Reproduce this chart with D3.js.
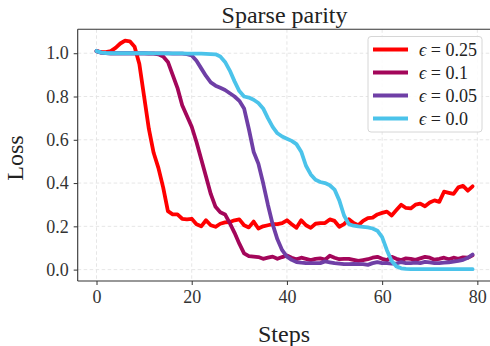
<!DOCTYPE html>
<html>
<head>
<meta charset="utf-8">
<script src="https://cdn.jsdelivr.net/npm/d3@7"></script>
<style>
  html, body { margin: 0; padding: 0; background: #fff; }
  svg { display: block; font-family: "Liberation Serif", "DejaVu Serif", serif; }
  svg text { font-family: "Liberation Serif", "DejaVu Serif", serif; }
</style>
</head>
<body>
<svg id="chart" width="490" height="346"></svg>
<script>
// Loss per training step for four noise levels
const seriesLabels = ["ϵ = 0.25", "ϵ = 0.1", "ϵ = 0.05", "ϵ = 0.0"];
const seriesColors = ["#ff0000", "#a3065a", "#6f3fa6", "#4bc3ea"];

const lossEps025 = [
  1.010, 1.005, 1.005, 1.010, 1.025, 1.045, 1.058, 1.055, 1.030, 0.950,
  0.800, 0.650, 0.540, 0.470, 0.380, 0.270, 0.255, 0.255, 0.235, 0.232,
  0.235, 0.210, 0.200, 0.228, 0.205, 0.198, 0.212, 0.218, 0.220, 0.228,
  0.232, 0.205, 0.195, 0.222, 0.190, 0.200, 0.205, 0.210, 0.210, 0.215,
  0.228, 0.210, 0.193, 0.228, 0.205, 0.193, 0.212, 0.215, 0.215, 0.232,
  0.225, 0.198, 0.210, 0.233, 0.215, 0.205, 0.225, 0.238, 0.240, 0.255,
  0.262, 0.268, 0.250, 0.275, 0.300, 0.285, 0.283, 0.300, 0.305, 0.293,
  0.310, 0.320, 0.313, 0.360, 0.355, 0.350, 0.380, 0.387, 0.365, 0.385
];
const lossEps010 = [
  1.010, 1.003, 1.001, 1.000, 1.000, 1.000, 1.000, 1.000, 0.999, 0.999,
  0.999, 0.998, 0.998, 0.995, 0.985, 0.960, 0.900, 0.840, 0.760, 0.710,
  0.660, 0.590, 0.510, 0.430, 0.350, 0.290, 0.265, 0.255, 0.215, 0.170,
  0.120, 0.075, 0.062, 0.060, 0.058, 0.050, 0.055, 0.060, 0.050, 0.058,
  0.065, 0.055, 0.048, 0.055, 0.050, 0.044, 0.050, 0.052, 0.046, 0.064,
  0.055, 0.048, 0.050, 0.050, 0.045, 0.040, 0.044, 0.048, 0.055, 0.059,
  0.050, 0.044, 0.059, 0.050, 0.044, 0.052, 0.050, 0.045, 0.052, 0.059,
  0.055, 0.046, 0.050, 0.055, 0.048, 0.055, 0.050, 0.057, 0.055, 0.066
];
const lossEps005 = [
  1.010, 1.003, 1.001, 1.000, 1.000, 1.000, 1.000, 1.000, 1.000, 1.000,
  1.000, 0.999, 0.999, 0.999, 0.999, 0.999, 0.998, 0.998, 0.998, 0.996,
  0.990, 0.965, 0.930, 0.895, 0.865, 0.850, 0.840, 0.830, 0.815, 0.800,
  0.780, 0.745, 0.650, 0.545, 0.490, 0.400, 0.300, 0.210, 0.140, 0.090,
  0.060, 0.045, 0.035, 0.032, 0.030, 0.030, 0.030, 0.030, 0.038, 0.034,
  0.030, 0.028, 0.025, 0.025, 0.026, 0.025, 0.025, 0.022, 0.030, 0.035,
  0.030, 0.030, 0.028, 0.028, 0.035, 0.030, 0.030, 0.032, 0.030, 0.036,
  0.033, 0.030, 0.030, 0.032, 0.034, 0.037, 0.040, 0.045, 0.055, 0.070
];
const lossEps000 = [
  1.010, 1.003, 1.001, 1.000, 1.000, 1.000, 1.000, 1.000, 1.000, 1.000,
  1.000, 1.000, 0.999, 0.999, 0.999, 0.999, 0.999, 0.999, 0.999, 0.998,
  0.998, 0.998, 0.998, 0.997, 0.996, 0.995, 0.985, 0.960, 0.920, 0.870,
  0.825, 0.800, 0.795, 0.785, 0.770, 0.745, 0.700, 0.660, 0.630, 0.615,
  0.605, 0.595, 0.580, 0.545, 0.480, 0.440, 0.415, 0.405, 0.400, 0.390,
  0.370, 0.320, 0.250, 0.210, 0.203, 0.200, 0.198, 0.195, 0.190, 0.180,
  0.150, 0.090, 0.040, 0.015, 0.006, 0.003, 0.002, 0.002, 0.002, 0.002,
  0.002, 0.002, 0.002, 0.002, 0.002, 0.002, 0.002, 0.002, 0.002, 0.002
];
const seriesValues = [lossEps025, lossEps010, lossEps005, lossEps000];

const xTicks = [0, 20, 40, 60, 80];
const yTicks = [0.0, 0.2, 0.4, 0.6, 0.8, 1.0];

const svg = d3.select("#chart");
const plot = { left: 77.7, right: 491.4, top: 29.3, bottom: 281 };

const x = d3.scaleLinear().domain([-3.95, 82.95]).range([plot.left, plot.right]);
const y = d3.scaleLinear().domain([-0.0526, 1.1106]).range([plot.bottom, plot.top]);

// dashed grid
const grid = svg.append("g").attr("stroke", "#e3e3e3").attr("stroke-width", 0.9)
  .attr("stroke-dasharray", "3.5,2.5");
grid.selectAll("line.gx").data(xTicks).join("line")
  .attr("x1", d => x(d)).attr("x2", d => x(d))
  .attr("y1", plot.top).attr("y2", plot.bottom);
grid.selectAll("line.gy").data(yTicks).join("line")
  .attr("x1", plot.left).attr("x2", plot.right)
  .attr("y1", d => y(d)).attr("y2", d => y(d));

// loss curves
const line = d3.line().x((d, i) => x(i)).y(d => y(d));
const curves = svg.append("g").attr("fill", "none")
  .attr("stroke-width", 3.8).attr("stroke-linejoin", "round").attr("stroke-linecap", "round");
seriesValues.forEach((vals, k) => {
  curves.append("path").attr("d", line(vals)).attr("stroke", seriesColors[k]);
});

// axes
const axisColor = "#333";
const xAxis = svg.append("g").attr("transform", `translate(0,${plot.bottom})`)
  .call(d3.axisBottom(x).tickValues(xTicks).tickFormat(d3.format("d")).tickSize(4).tickPadding(5));
const yAxis = svg.append("g").attr("transform", `translate(${plot.left},0)`)
  .call(d3.axisLeft(y).tickValues(yTicks).tickFormat(d3.format(".1f")).tickSize(4).tickPadding(5));
[xAxis, yAxis].forEach(a => {
  a.attr("font-family", null).attr("font-size", 18);
  a.select(".domain").remove();
  a.selectAll(".tick line").attr("stroke", axisColor).attr("stroke-width", 1);
  a.selectAll(".tick text").attr("fill", "#333")
    .style("font-family", "'Liberation Serif', serif");
});

// spines: left, bottom, top
svg.append("line").attr("x1", plot.left).attr("x2", plot.left)
  .attr("y1", plot.top).attr("y2", plot.bottom).attr("stroke", axisColor).attr("stroke-width", 1.1);
svg.append("line").attr("x1", plot.left).attr("x2", plot.right)
  .attr("y1", plot.bottom).attr("y2", plot.bottom).attr("stroke", axisColor).attr("stroke-width", 1.1);
svg.append("line").attr("x1", plot.left).attr("x2", plot.right)
  .attr("y1", plot.top).attr("y2", plot.top).attr("stroke", axisColor).attr("stroke-width", 1.1);

// titles
svg.append("text").attr("x", (plot.left + plot.right) / 2).attr("y", 23)
  .attr("text-anchor", "middle").attr("font-size", 24).attr("fill", "#222")
  .text("Sparse parity");
svg.append("text").attr("x", 284).attr("y", 342)
  .attr("text-anchor", "middle").attr("font-size", 24).attr("fill", "#222")
  .text("Steps");
svg.append("text").attr("transform", "translate(23,158) rotate(-90)")
  .attr("text-anchor", "middle").attr("font-size", 24).attr("fill", "#222")
  .text("Loss");

// legend
const legend = svg.append("g");
legend.append("rect").attr("x", 368).attr("y", 36.5).attr("width", 114).attr("height", 95.5)
  .attr("rx", 3).attr("fill", "rgba(255,255,255,0.85)").attr("stroke", "#d6d6d6").attr("stroke-width", 1);
seriesLabels.forEach((lab, k) => {
  const ry = 49.5 + k * 23;
  legend.append("line").attr("x1", 373).attr("x2", 408).attr("y1", ry).attr("y2", ry)
    .attr("stroke", seriesColors[k]).attr("stroke-width", 3.8);
  const t = legend.append("text").attr("x", 419).attr("y", ry + 6)
    .attr("font-size", 18).attr("fill", "#222");
  const parts = lab.split(" = ");
  t.append("tspan").attr("font-style", "italic").text(parts[0]);
  t.append("tspan").text(" = " + parts[1]);
});
</script>
</body>
</html>
